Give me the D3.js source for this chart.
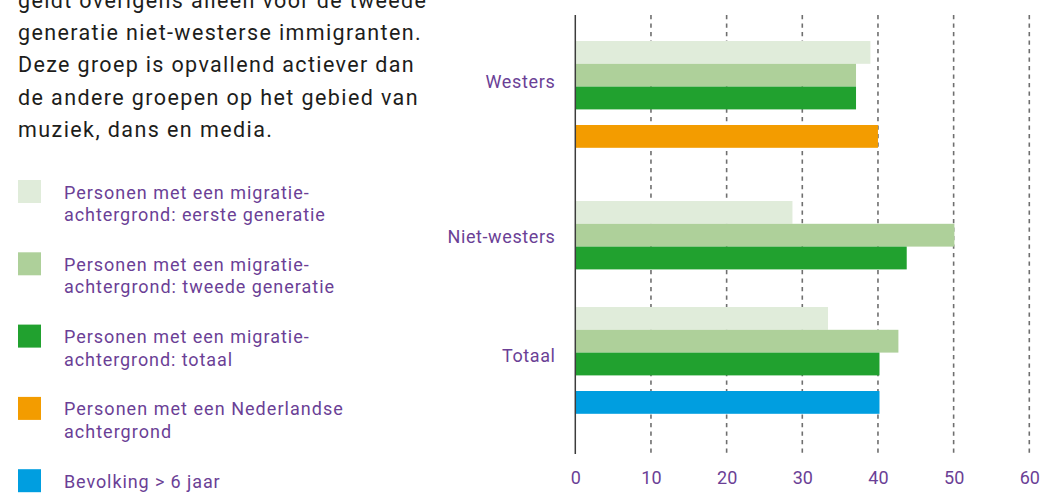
<!DOCTYPE html>
<html><head><meta charset="utf-8">
<script src="https://cdn.jsdelivr.net/npm/d3@7"></script>
<style>
html,body{margin:0;padding:0;background:#fff;}
svg{display:block;}
</style></head>
<body>
<svg id="chart" width="1040" height="494"></svg>
<script>
const categories = ["Westers", "Niet-westers", "Totaal"];
const seriesNames = [
  "Personen met een migratie-|achtergrond: eerste generatie",
  "Personen met een migratie-|achtergrond: tweede generatie",
  "Personen met een migratie-|achtergrond: totaal",
  "Personen met een Nederlandse|achtergrond",
  "Bevolking > 6 jaar"
];
const eersteGeneratie = [39.0, 28.7, 33.4];
const tweedeGeneratie = [37.1, 50.1, 42.7];
const migratieTotaal  = [37.1, 43.8, 40.2];
const nederlands      = [40.0, null, null];
const bevolking       = [null, null, 40.2];
const xTicks = [0, 10, 20, 30, 40, 50, 60];
const introLines = [
  "geldt overigens alleen voor de tweede",
  "generatie niet-westerse immigranten.",
  "Deze groep is opvallend actiever dan",
  "de andere groepen op het gebied van",
  "muziek, dans en media."
];
const colors = ["#e0ecda", "#aed09a", "#21a12f", "#f39c00", "#009ee0"];

const allSeries = [eersteGeneratie, tweedeGeneratie, migratieTotaal, nederlands, bevolking];
const font = "'Roboto', 'DejaVu Sans', sans-serif";
const purple = "#6b3f96";

const svg = d3.select("#chart");

// widen a text selection so that a reference string reaches a target width
function fitSpacing(sel, refIndexFn, targetWidth) {
  const nodes = sel.nodes();
  const ref = nodes.find(refIndexFn);
  const natural = ref.getComputedTextLength();
  const factor = targetWidth / natural;
  sel.each(function() {
    const w = this.getComputedTextLength();
    const n = this.textContent.length;
    d3.select(this).attr("letter-spacing", (w * (factor - 1)) / n);
  });
}

// intro paragraph
const intro = svg.append("g").selectAll("text").data(introLines).join("text")
  .attr("x", 18).attr("y", (d, i) => 7.5 + i * 32.4)
  .attr("font-family", font).attr("font-size", 21.5).attr("fill", "#1d1d1b")
  .text(d => d);
fitSpacing(intro, n => n.textContent === introLines[1], 404);

// legend
const legend = svg.append("g").selectAll("g").data(seriesNames).join("g")
  .attr("transform", (d, i) => `translate(18,${180 + i * 72.3})`);
legend.append("rect").attr("width", 23).attr("height", 23).attr("fill", (d, i) => colors[i]);
legend.each(function(d) {
  const lines = d.split("|");
  d3.select(this).selectAll("text").data(lines).join("text")
    .attr("x", 46).attr("y", (l, j) => 18.5 + j * 22.5)
    .attr("font-family", font).attr("font-size", 18).attr("fill", purple)
    .text(l => l);
});
fitSpacing(legend.selectAll("text"), n => n.textContent === "achtergrond: tweede generatie", 271);

// scales
const x = d3.scaleLinear().domain([0, 60]).range([575.3, 1029.3]);
const groupY = {"Westers": 41, "Niet-westers": 201, "Totaal": 307};
const barH = 22.8;
const slotOffset = [0, 22.8, 45.6, 84];

// gridlines
svg.append("g").selectAll("line").data(xTicks.filter(t => t > 0)).join("line")
  .attr("x1", d => x(d)).attr("x2", d => x(d))
  .attr("y1", 15).attr("y2", 454)
  .attr("stroke", "#6f6f6f").attr("stroke-width", 1.6).attr("stroke-dasharray", "4.3,4.2");

// bars
const bars = [];
categories.forEach((c, ci) => {
  allSeries.forEach((s, si) => {
    if (s[ci] != null) {
      bars.push({cat: c, si, v: s[ci], y: groupY[c] + slotOffset[Math.min(si, 3)]});
    }
  });
});
svg.append("g").selectAll("rect").data(bars).join("rect")
  .attr("x", x(0)).attr("y", d => d.y)
  .attr("width", d => x(d.v) - x(0)).attr("height", barH)
  .attr("fill", d => colors[d.si]);

// axis line
svg.append("line").attr("x1", x(0)).attr("x2", x(0)).attr("y1", 15).attr("y2", 454)
  .attr("stroke", "#3c3c3c").attr("stroke-width", 1.5);

// x axis labels
const xAxis = d3.axisBottom(x).tickValues(xTicks).tickSize(0).tickPadding(0);
const gx = svg.append("g").attr("transform", "translate(0,472)").call(xAxis);
gx.select(".domain").remove();
gx.selectAll("text").attr("font-family", font).attr("font-size", 18).attr("fill", purple)
  .attr("dy", "0.35em").attr("y", 6);

// category labels
const labelY = {"Westers": 81.5, "Niet-westers": 237, "Totaal": 355.5};
const catLabels = svg.append("g").selectAll("text").data(categories).join("text")
  .attr("x", 555.5).attr("y", d => labelY[d]).attr("dy", "0.35em")
  .attr("text-anchor", "end")
  .attr("font-family", font).attr("font-size", 18).attr("fill", purple)
  .text(d => d);
fitSpacing(catLabels, n => n.textContent === "Niet-westers", 108);
</script>
</body></html>
